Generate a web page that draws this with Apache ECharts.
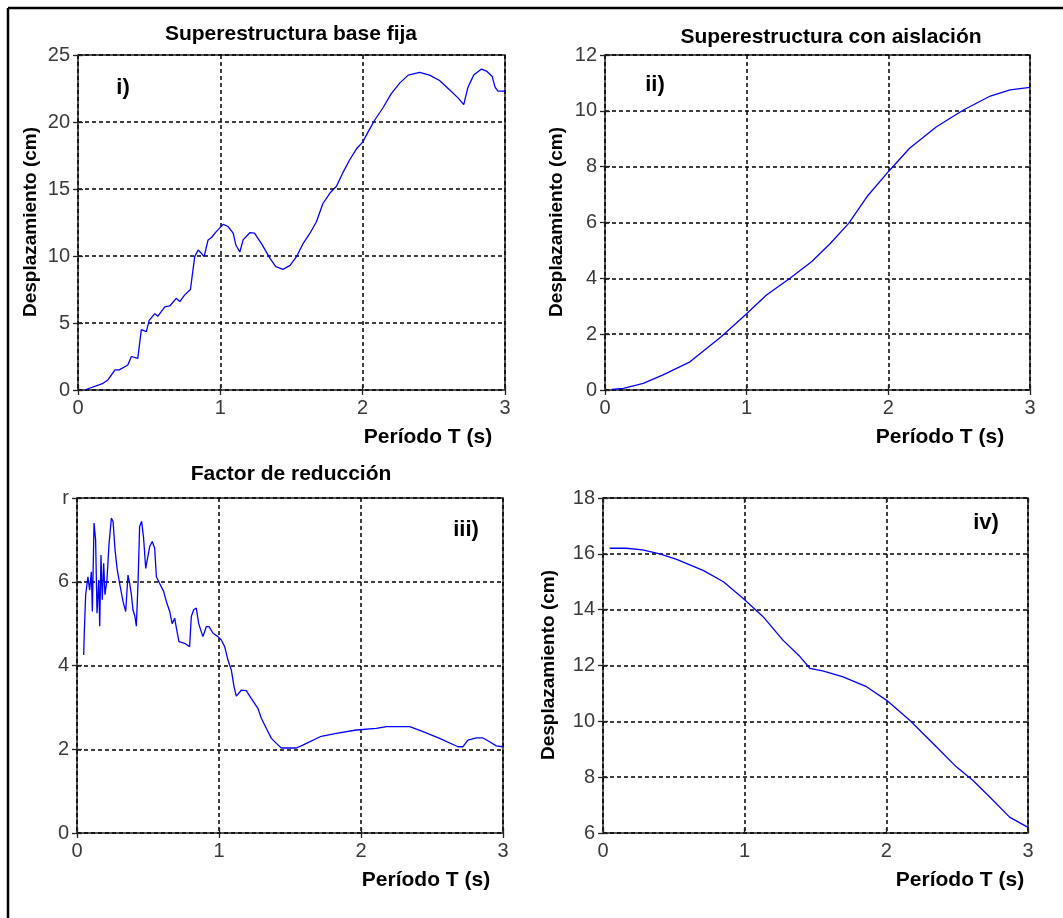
<!DOCTYPE html>
<html>
<head>
<meta charset="utf-8">
<script src="https://cdn.jsdelivr.net/npm/echarts@6/dist/echarts.min.js"></script>
<style>
  html, body { margin: 0; padding: 0; background: #fff; }
  #chart { width: 1063px; height: 918px; }
</style>
</head>
<body>
<div id="chart"></div>
<script>
// Período T (s) and response values for each panel
const periodI = [0.047,0.176,0.21,0.26,0.29,0.35,0.375,0.42,0.445,0.48,0.50,0.54,0.56,0.61,0.645,0.69,0.715,0.75,0.79,0.82,0.844,0.867,0.886,0.914,0.94,0.97,1.02,1.055,1.09,1.11,1.137,1.16,1.207,1.24,1.29,1.35,1.39,1.44,1.49,1.535,1.58,1.63,1.675,1.72,1.77,1.816,1.86,1.91,1.957,2.0,2.04,2.085,2.145,2.2,2.26,2.32,2.40,2.47,2.54,2.61,2.67,2.71,2.74,2.78,2.835,2.87,2.91,2.93,2.95,3.0];
const despFija = [0,0.5,0.75,1.5,1.5,1.87,2.5,2.36,4.5,4.35,5.2,5.7,5.5,6.2,6.27,6.84,6.6,7.1,7.5,9.95,10.45,10.2,9.95,11.2,11.4,11.8,12.36,12.2,11.7,10.8,10.3,11.2,11.74,11.7,10.9,9.8,9.2,9.0,9.3,9.95,10.9,11.7,12.56,13.9,14.7,15.2,16.2,17.2,18.0,18.5,19.3,20.15,21.1,22.1,22.9,23.5,23.7,23.5,23.1,22.4,21.8,21.3,22.6,23.5,23.95,23.8,23.4,22.6,22.3,22.3];

const periodII = [0.047,0.13,0.27,0.41,0.6,0.82,0.99,1.14,1.306,1.46,1.59,1.72,1.85,2.0,2.15,2.34,2.53,2.72,2.86,3.0];
const despAislada = [0.02,0.06,0.24,0.54,1.01,1.91,2.69,3.4,4.0,4.6,5.25,5.97,6.93,7.82,8.66,9.43,10.03,10.53,10.75,10.84];

const periodIII = [0.047,0.052,0.061,0.077,0.089,0.101,0.108,0.12,0.131,0.141,0.153,0.16,0.169,0.178,0.188,0.197,0.211,0.225,0.242,0.254,0.268,0.282,0.30,0.324,0.343,0.359,0.371,0.383,0.394,0.408,0.418,0.43,0.441,0.455,0.469,0.484,0.495,0.512,0.53,0.547,0.559,0.582,0.61,0.629,0.653,0.67,0.688,0.70,0.718,0.758,0.793,0.805,0.822,0.84,0.857,0.871,0.887,0.911,0.93,0.958,0.993,1.016,1.04,1.063,1.087,1.106,1.122,1.134,1.157,1.192,1.228,1.275,1.298,1.333,1.369,1.404,1.439,1.545,1.59,1.72,1.826,1.967,2.108,2.18,2.343,2.437,2.554,2.683,2.718,2.753,2.812,2.859,2.906,2.953,3.0];
const factorR = [4.25,4.85,5.69,6.12,5.8,6.24,5.29,7.4,7.0,5.25,6.04,4.94,6.64,5.57,6.44,5.69,6.04,6.88,7.52,7.44,6.76,6.32,5.96,5.53,5.29,6.16,5.96,5.69,5.33,5.17,4.94,6.0,7.32,7.44,7.04,6.32,6.28,6.84,6.96,6.8,6.12,5.96,5.77,5.53,5.29,5.0,5.13,4.89,4.57,4.53,4.45,5.17,5.33,5.37,5.0,4.85,4.69,4.93,4.93,4.77,4.69,4.61,4.45,4.13,3.89,3.49,3.27,3.25,3.41,3.40,3.21,2.97,2.74,2.5,2.26,2.14,2.03,2.03,2.1,2.31,2.38,2.46,2.5,2.54,2.54,2.42,2.26,2.06,2.06,2.22,2.27,2.27,2.18,2.08,2.06];

const periodIV = [0.047,0.165,0.28,0.4,0.52,0.71,0.85,0.99,1.13,1.27,1.39,1.46,1.55,1.69,1.86,2.0,2.165,2.353,2.494,2.61,2.73,2.87,3.0];
const despIV = [16.2,16.2,16.14,16.0,15.8,15.4,15.0,14.4,13.75,12.91,12.32,11.9,11.81,11.6,11.24,10.76,10.04,9.09,8.37,7.89,7.29,6.57,6.2];

// tick labels of the reduction-factor axis
const ticksIII = ['0', '2', '4', '6', 'r'];

const FONT = "'Liberation Sans', Arial, sans-serif";
const grids = [
  { left: 78,  top: 55,  width: 427, height: 335 },
  { left: 605, top: 55,  width: 425, height: 335 },
  { left: 77,  top: 498, width: 426, height: 335 },
  { left: 603, top: 498, width: 425, height: 335 }
];
const yRanges = [
  { min: 0, max: 25, interval: 5 },
  { min: 0, max: 12, interval: 2 },
  { min: 0, max: 8,  interval: 2, labels: ticksIII },
  { min: 6, max: 18, interval: 2 }
];
const seriesData = [
  [periodI, despFija],
  [periodII, despAislada],
  [periodIII, factorR],
  [periodIV, despIV]
];

const dashed = { show: true, lineStyle: { color: '#000', type: [4, 3], width: 1.5 } };
const tickIn = { show: true, inside: true, length: 5, lineStyle: { color: '#222', width: 1.3 } };
const labelStyle = { color: '#3a3a3a', fontFamily: FONT, fontSize: 20 };

const xAxis = [], yAxis = [], series = [];
grids.forEach((g, i) => {
  xAxis.push({
    type: 'value', gridIndex: i, min: 0, max: 3, interval: 1, position: 'bottom',
    axisLine: { show: false }, axisTick: tickIn, splitLine: dashed,
    axisLabel: Object.assign({ margin: 8 }, labelStyle)
  });
  xAxis.push({
    type: 'value', gridIndex: i, min: 0, max: 3, interval: 1, position: 'top',
    axisLine: { show: false }, axisTick: tickIn, splitLine: { show: false },
    axisLabel: { show: false }
  });
  const r = yRanges[i];
  yAxis.push({
    type: 'value', gridIndex: i, min: r.min, max: r.max, interval: r.interval, position: 'left',
    axisLine: { show: false }, axisTick: tickIn, splitLine: dashed,
    axisLabel: Object.assign({
      margin: 8,
      formatter: r.labels ? (v) => r.labels[Math.round((v - r.min) / r.interval)] : (v) => String(v)
    }, labelStyle)
  });
  yAxis.push({
    type: 'value', gridIndex: i, min: r.min, max: r.max, interval: r.interval, position: 'right',
    axisLine: { show: false }, axisTick: tickIn, splitLine: { show: false },
    axisLabel: { show: false }
  });
  const [xs, ys] = seriesData[i];
  series.push({
    type: 'line', xAxisIndex: 2 * i, yAxisIndex: 2 * i,
    data: xs.map((x, k) => [x, ys[k]]),
    showSymbol: false, smooth: false,
    lineStyle: { color: '#0000ff', width: 1.3 },
    z: 3
  });
});

const boldText = (x, y, text, size) => ({
  type: 'text', x: x, y: y,
  style: { text: text, fill: '#000', font: 'bold ' + size + 'px ' + FONT, textAlign: 'center', textVerticalAlign: 'middle' }
});
const vText = (x, y, text, size) => ({
  type: 'text', x: x, y: y, rotation: Math.PI / 2,
  style: { text: text, fill: '#000', font: 'bold ' + size + 'px ' + FONT, textAlign: 'center', textVerticalAlign: 'middle' }
});

const graphic = [
  // figure frame edges
  { type: 'line', shape: { x1: 8, y1: 8, x2: 1063, y2: 8 }, style: { stroke: '#000', lineWidth: 2.5 } },
  { type: 'line', shape: { x1: 8, y1: 8, x2: 8, y2: 918 }, style: { stroke: '#000', lineWidth: 2.5 } },
  // panel titles
  boldText(291, 34, 'Superestructura base fija', 21),
  boldText(831, 37, 'Superestructura con aislación', 21),
  boldText(291, 474, 'Factor de reducción', 21),
  // x-axis names
  boldText(428, 437, 'Período T (s)', 21),
  boldText(940, 437, 'Período T (s)', 21),
  boldText(426, 880, 'Período T (s)', 21),
  boldText(960, 880, 'Período T (s)', 21),
  // y-axis names
  vText(31, 222, 'Desplazamiento (cm)', 19),
  vText(557, 222, 'Desplazamiento (cm)', 19),
  vText(549, 665, 'Desplazamiento (cm)', 19),
  // panel tags
  boldText(123, 88, 'i)', 22),
  boldText(655, 85, 'ii)', 22),
  boldText(466, 530, 'iii)', 22),
  boldText(986, 523, 'iv)', 22)
];

const chart = echarts.init(document.getElementById('chart'), null, { renderer: 'canvas' });
chart.setOption({
  backgroundColor: '#fff',
  animation: false,
  grid: grids.map(g => Object.assign({ show: true, borderColor: '#222', borderWidth: 1.5, backgroundColor: 'transparent', containLabel: false }, g)),
  xAxis: xAxis,
  yAxis: yAxis,
  series: series,
  graphic: graphic
});
</script>
</body>
</html>
